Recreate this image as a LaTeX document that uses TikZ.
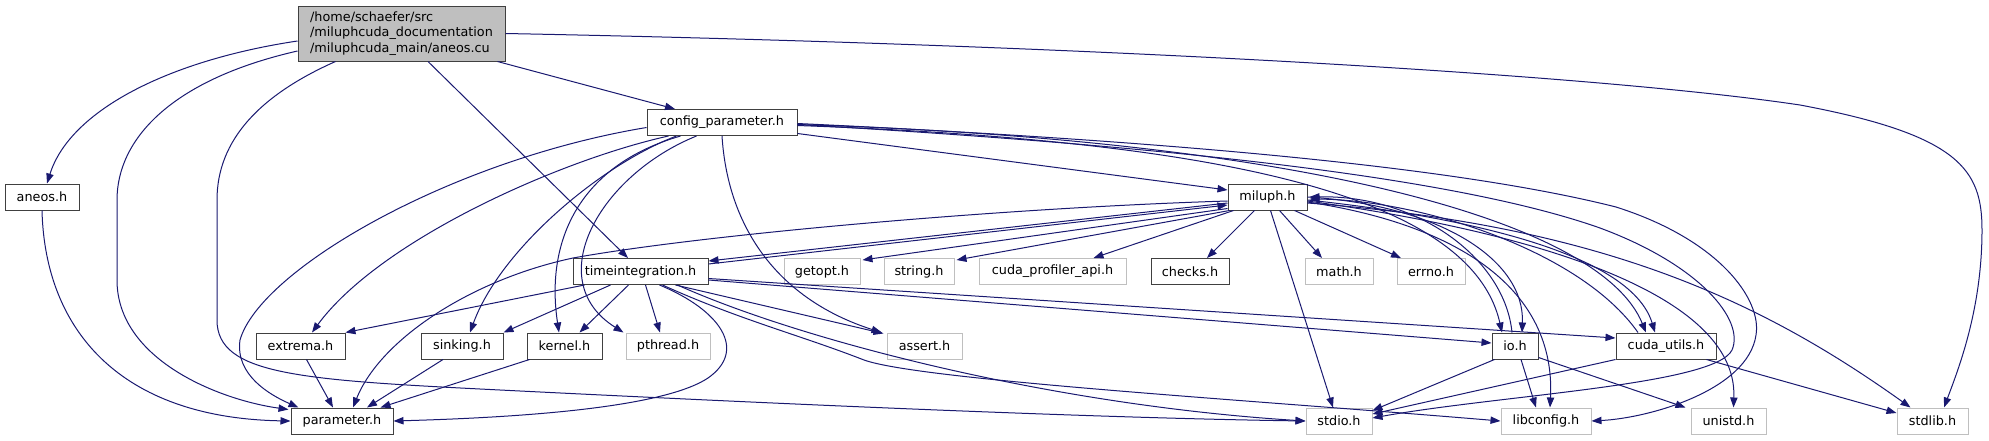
\documentclass[tikz,border=0pt]{standalone}
\usepackage{fontspec}
\setmainfont{DejaVu Sans}
\usepackage{tikz}
\usetikzlibrary{arrows.meta, calc}
\definecolor{edgeblue}{HTML}{191970}
\definecolor{darkrim}{HTML}{404040}
\definecolor{lightrim}{HTML}{BFBFBF}
\tikzset{
    box_file/.style={
        rectangle, draw=darkrim, fill=white, line width=0.75pt,
        minimum height=19.5pt, inner sep=0pt,
        font=\fontsize{9.6}{11.5}\selectfont
    },
    box_sys/.style={
        box_file, draw=lightrim
    },
    box_src/.style={
        box_file, fill=lightrim, align=left,
        minimum width=155.25pt, minimum height=41.25pt
    },
    inc_arrow/.style={
        -{Triangle[length=7.5pt, width=5.5pt]}, draw=edgeblue, line width=0.75pt
    }
}

\begin{document}
\begin{tikzpicture}[x=0.75pt, y=-0.75pt]
\useasboundingbox (0,0) rectangle (1989,440);

\node[box_src] (src) at (401.5, 33.5) {/home/schaefer/src\\/miluphcuda\_documentation\\/miluphcuda\_main/aneos.cu};

\node[box_file, minimum width=55.5pt] (aneos) at (42, 197) {aneos.h};
\node[box_file, minimum width=112.5pt] (config) at (722, 122.5) {config\_parameter.h};
\node[box_file, minimum width=59.25pt] (miluph) at (1267.5, 197) {miluph.h};

\node[box_file, minimum width=101.25pt] (timeint) at (640.5, 271.5) {timeintegration.h};
\node[box_sys, minimum width=57pt] (getopt) at (822, 271.5) {getopt.h};
\node[box_sys, minimum width=52.5pt] (string) at (919, 271.5) {string.h};
\node[box_sys, minimum width=110.25pt] (profiler) at (1052.5, 271.5) {cuda\_profiler\_api.h};
\node[box_file, minimum width=58.5pt] (checks) at (1190, 271.5) {checks.h};
\node[box_sys, minimum width=51pt] (math) at (1339, 271.5) {math.h};
\node[box_sys, minimum width=51pt] (errno) at (1431, 271.5) {errno.h};

\node[box_file, minimum width=66.75pt] (extrema) at (300.5, 346) {extrema.h};
\node[box_file, minimum width=61.5pt] (sinking) at (462, 346) {sinking.h};
\node[box_file, minimum width=56.25pt] (kernel) at (564.5, 346) {kernel.h};
\node[box_sys, minimum width=63pt] (pthread) at (668, 346) {pthread.h};
\node[box_sys, minimum width=56.25pt] (assert) at (924.5, 346) {assert.h};
\node[box_file, minimum width=34.5pt] (io) at (1515, 346) {io.h};
\node[box_file, minimum width=75pt] (cudautils) at (1666, 346) {cuda\_utils.h};

\node[box_file, minimum width=76.5pt] (parameter) at (342, 421) {parameter.h};
\node[box_sys, minimum width=49.5pt] (stdio) at (1339, 421) {stdio.h};
\node[box_sys, minimum width=67.5pt] (libconfig) at (1546, 421) {libconfig.h};
\node[box_sys, minimum width=56.25pt] (unistd) at (1728.5, 421) {unistd.h};
\node[box_sys, minimum width=53.25pt] (stdlib) at (1932.5, 421) {stdlib.h};

\draw[inc_arrow] ($(src.west)+(0,7.5)$) .. controls (170,60) and (70,110) .. ($(aneos.north)+(5,0)$);
\draw[inc_arrow] ($(src.west)+(0,17.5)$) .. controls (170,80) and (117,140) .. (117,200) -- (117,280) .. controls (117,360) and (220,400) .. ($(parameter.north west)+(-2,2)$);
\draw[inc_arrow] ($(src.south)+(-66,0)$) .. controls (260,95) and (217,140) .. (217,200) -- (217,320) .. controls (217,375) and (300,380) .. (500,390) .. controls (800,405) and (1100,418) .. (stdio.west);
\draw[inc_arrow] ($(src.south)+(26.5,0)$) -- ($(timeint.north)+(-12.5,0)$);
\draw[inc_arrow] ($(src.south east)+(-8,0)$) -- ($(config.north)+(-47,0)$);
\draw[inc_arrow] (src.east) .. controls (1100,45) and (1600,75) .. (1800,105) .. controls (1960,135) and (1982,170) .. (1982,230) .. controls (1982,310) and (1958,370) .. ($(stdlib.north)+(11.5,0)$);

\draw[inc_arrow] (aneos.south) .. controls (45,330) and (120,418) .. (parameter.west);
\draw[inc_arrow] ($(extrema.south)+(6,0)$) -- ($(parameter.north)+(-9,0)$);
\draw[inc_arrow] ($(sinking.south)+(-19,0)$) -- ($(parameter.north)+(25,0)$);
\draw[inc_arrow] ($(kernel.south west)+(3,0)$) -- ($(parameter.north east)+(-13,0)$);

\draw[inc_arrow] ($(config.west)+(0,5)$) .. controls (450,160) and (260,270) .. (240,340) .. controls (235,375) and (270,395) .. ($(parameter.north west)+(8,0)$);
\draw[inc_arrow] ($(config.south west)+(22,0)$) .. controls (560,160) and (380,240) .. ($(extrema.north)+(11.5,0)$);
\draw[inc_arrow] ($(config.south west)+(30,0)$) .. controls (600,165) and (500,250) .. ($(sinking.north)+(8,0)$);
\draw[inc_arrow] ($(config.south west)+(34,0)$) .. controls (580,165) and (545,240) .. ($(kernel.north)+(-5.5,0)$);
\draw[inc_arrow] ($(config.south west)+(50,0)$) .. controls (600,175) and (540,280) .. ($(pthread.north west)+(-2,0)$);
\draw[inc_arrow] (config.south) .. controls (728,230) and (780,300) .. ($(assert.north west)+(-5,0)$);
\draw[inc_arrow] ($(config.east)+(0,11)$) -- ($(miluph.west)+(0,-7)$);
\draw[inc_arrow] ($(config.east)+(0,3)$) .. controls (1200,140) and (1470,190) .. ($(io.north)+(-13,0)$);
\draw[inc_arrow] ($(config.east)+(0,2)$) .. controls (1300,140) and (1600,220) .. ($(cudautils.north)+(-20,0)$);
\draw[inc_arrow] ($(config.east)+(0,1)$) .. controls (1150,140) and (1450,165) .. (1616,207) .. controls (1720,240) and (1762,300) .. (1756,335) .. controls (1748,390) and (1650,418) .. (libconfig.east);
\draw[inc_arrow] ($(config.east)+(0,2)$) .. controls (1150,145) and (1450,175) .. (1600,228) .. controls (1700,265) and (1745,320) .. (1732,350) .. controls (1715,385) and (1500,395) .. ($(stdio.east)+(0,-3)$);

\draw[inc_arrow] ($(timeint.south west)+(12,0)$) -- (extrema.north east);
\draw[inc_arrow] ($(timeint.south)+(-30,0)$) -- (sinking.north east);
\draw[inc_arrow] ($(timeint.south)+(-12,0)$) -- ($(kernel.north)+(15,0)$);
\draw[inc_arrow] ($(timeint.south)+(5,0)$) -- ($(pthread.north)+(-8,0)$);
\draw[inc_arrow] ($(timeint.south)+(35,0)$) -- ($(assert.north west)+(-3,1)$);
\draw[inc_arrow] ($(timeint.south)+(19,0)$) .. controls (720,310) and (748,350) .. (708,378) .. controls (660,410) and (500,418) .. (parameter.east);
\draw[inc_arrow] ($(timeint.south)+(22,0)$) .. controls (740,320) and (800,335) .. (864,360) .. controls (920,380) and (1250,400) .. (libconfig.west);
\draw[inc_arrow] ($(timeint.south)+(37,0)$) .. controls (800,340) and (1050,405) .. (stdio.west);
\draw[inc_arrow] ($(timeint.east)+(0,8.5)$) -- ($(io.west)+(0,-3)$);
\draw[inc_arrow] ($(timeint.east)+(0,7)$) -- ($(cudautils.west)+(0,-8)$);
\draw[inc_arrow] ($(timeint.north east)+(0,6)$) -- ($(miluph.west)+(0,8)$);

\draw[inc_arrow] ($(miluph.west)+(0,6)$) -- ($(timeint.north east)+(0,3)$);
\draw[inc_arrow] ($(miluph.west)+(0,4)$) .. controls (1000,208) and (700,235) .. (573,258) .. controls (470,280) and (380,340) .. ($(parameter.north)+(11,0)$);
\draw[inc_arrow] ($(miluph.south west)+(0,-2)$) -- ($(getopt.north east)+(2,2)$);
\draw[inc_arrow] ($(miluph.south west)+(2,0)$) -- ($(string.north east)+(2,2)$);
\draw[inc_arrow] ($(miluph.south west)+(6,0)$) -- ($(profiler.north)+(41,0)$);
\draw[inc_arrow] ($(miluph.south)+(-13,0)$) -- ($(checks.north)+(17,0)$);
\draw[inc_arrow] ($(miluph.south)+(12,0)$) -- ($(math.north)+(-17,0)$);
\draw[inc_arrow] ($(miluph.south east)+(-13,0)$) -- ($(errno.north)+(-30,0)$);
\draw[inc_arrow] ($(miluph.south)+(3,0)$) -- ($(stdio.north)+(-6,0)$);
\draw[inc_arrow] (miluph.east) .. controls (1440,205) and (1525,260) .. ($(io.north)+(7,0)$);
\draw[inc_arrow] ($(miluph.east)+(0,3)$) .. controls (1450,215) and (1630,250) .. ($(cudautils.north)+(-11,0)$);
\draw[inc_arrow] ($(miluph.east)+(0,5)$) .. controls (1460,225) and (1556,290) .. ($(libconfig.north)+(4,0)$);
\draw[inc_arrow] ($(miluph.east)+(0,4)$) .. controls (1520,230) and (1738,290) .. ($(unistd.north)+(5,0)$);
\draw[inc_arrow] ($(miluph.east)+(0,6)$) .. controls (1600,225) and (1760,300) .. ($(stdlib.north)+(-22,0)$);

\draw[inc_arrow] ($(io.north)+(-3,0)$) .. controls (1505,260) and (1420,195) .. ($(miluph.east)+(2,0)$);
\draw[inc_arrow] ($(io.south)+(6,0)$) -- ($(libconfig.north)+(-10,0)$);
\draw[inc_arrow] ($(io.south west)+(3,0)$) -- ($(stdio.north east)+(0,3)$);
\draw[inc_arrow] ($(io.south east)+(0,-2)$) -- ($(unistd.north west)+(-5,0)$);

\draw[inc_arrow] ($(cudautils.north)+(-28,0)$) .. controls (1580,250) and (1420,200) .. ($(miluph.east)+(2,2)$);
\draw[inc_arrow] (cudautils.south west) -- ($(stdio.east)+(0,-7)$);
\draw[inc_arrow] ($(cudautils.south east)+(-10,0)$) -- ($(stdlib.west)+(0,-8)$);
\end{tikzpicture}
\end{document}
